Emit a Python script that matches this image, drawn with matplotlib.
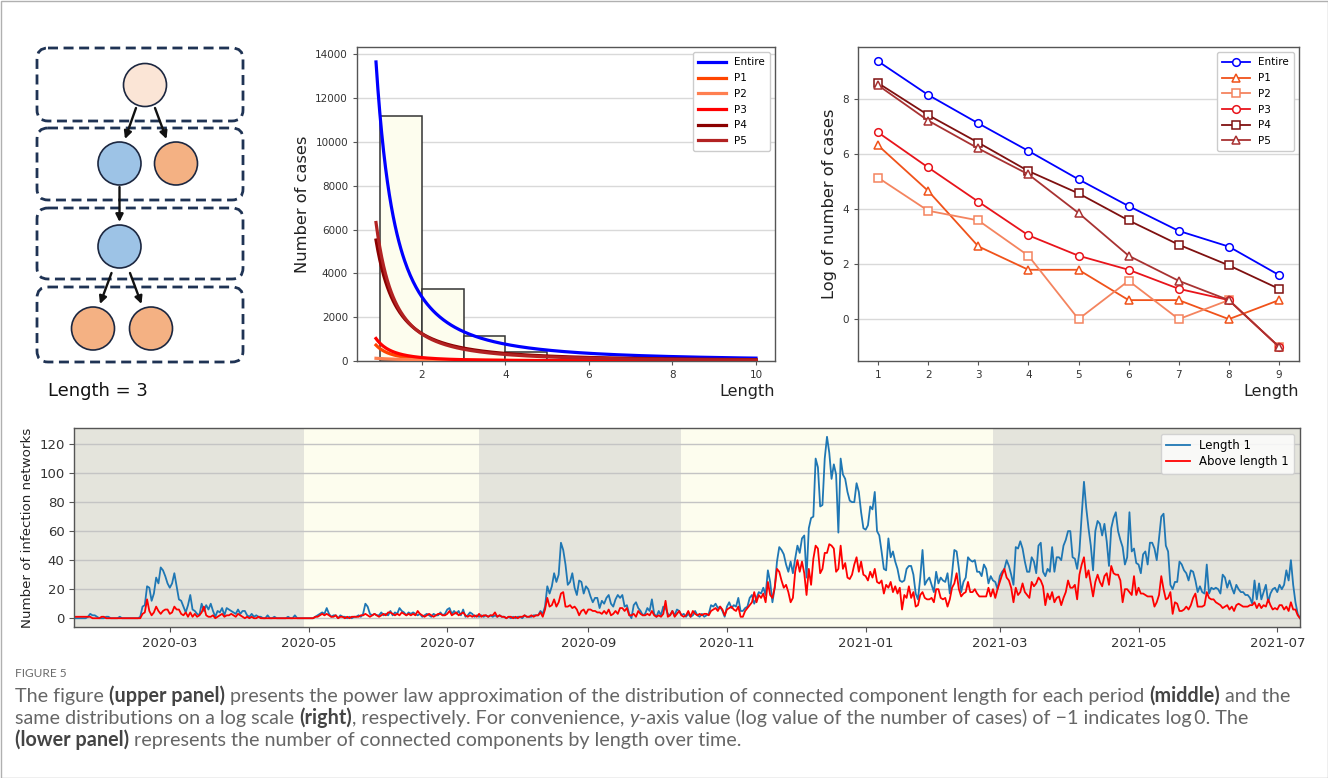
import numpy as np
import pandas as pd
import matplotlib
matplotlib.use('Agg')
import matplotlib.pyplot as plt
import matplotlib.dates as mdates
from matplotlib.patches import FancyBboxPatch, Circle, FancyArrowPatch, Rectangle

# ------------------------------------------------------------------ data
# middle panel: histogram of component length + power-law fits
hist_edges = [1, 2, 3, 4, 5, 6, 7, 8, 9, 10]
hist_counts = [11200, 3300, 1150, 430, 160, 60, 25, 14, 5]
series_names = ['Entire', 'P1', 'P2', 'P3', 'P4', 'P5']
fit_coef = [11140, 558, 111, 801, 4538, 5094]
fit_exp = [1.93, 2.5, 1.0, 2.36, 1.86, 2.05]
fit_xmin = 0.9
fit_xmax = [10, 10, 6, 10, 10, 10]

# right panel: log of number of cases by length
lengths = [1, 2, 3, 4, 5, 6, 7, 8, 9]
log_entire = [9.35, 8.13, 7.10, 6.10, 5.07, 4.10, 3.20, 2.63, 1.60]
log_p1 = [6.30, 4.65, 2.64, 1.79, 1.79, 0.69, 0.69, 0.00, 0.69]
log_p2 = [5.13, 3.93, 3.58, 2.30, 0.00, 1.39, 0.00, 0.69, -1.0]
log_p3 = [6.77, 5.50, 4.26, 3.04, 2.30, 1.79, 1.10, 0.69, -1.0]
log_p4 = [8.56, 7.40, 6.40, 5.37, 4.56, 3.58, 2.70, 1.95, 1.10]
log_p5 = [8.48, 7.20, 6.19, 5.25, 3.85, 2.30, 1.39, 0.69, -1.0]

# lower panel: daily counts
series_start = '2020-01-19'
len1_counts = [
    0, 0, 0, 0, 0, 0, 1, 3, 2, 2, 1, 0, 0, 0, 1, 1, 0, 0, 0, 0,
    1, 0, 0, 0, 0, 0, 0, 0, 0, 1, 8, 9, 22, 21, 12, 17, 28, 24, 35, 33,
    29, 24, 21, 24, 31, 22, 13, 12, 8, 4, 9, 16, 6, 5, 3, 2, 10, 5, 9, 6,
    10, 5, 1, 5, 4, 7, 2, 7, 6, 5, 4, 3, 6, 3, 5, 5, 2, 1, 3, 1,
    2, 1, 1, 0, 0, 2, 0, 0, 1, 0, 0, 0, 0, 0, 1, 0, 0, 2, 0, 0,
    0, 0, 0, 0,
    0, 0, 1, 2, 3, 4, 3, 7, 3, 1, 2, 2, 0, 2, 1, 1, 0, 1, 0, 1,
    1, 2, 1, 3, 10, 8, 3, 2, 3, 2, 2, 4, 2, 3, 2, 5, 2, 4, 3, 7,
    5, 4, 2, 4, 3, 4, 3, 2, 3, 1, 2, 3, 2, 1, 3, 2, 2, 4, 2, 3,
    6, 7, 3, 5, 3, 5, 2, 6, 1, 2, 4, 3, 1, 2, 1, 2, 1, 2, 1, 2,
    1, 2, 1, 2, 1, 1, 0, 1, 0, 1, 0, 1, 1, 0, 2, 1, 1, 1, 2, 2,
    2, 5, 3, 8, 22,
    17, 22, 31, 25, 30,
    52, 47, 37, 23, 25, 31, 21, 16, 26, 25, 17, 22, 20, 15, 11, 14, 14, 7, 12, 10,
    14, 16, 10, 8, 13, 16, 14, 16, 8, 9, 3, 0, 9, 11, 7, 5, 2, 3, 7, 5,
    13, 3, 1, 5, 2, 8, 7, 3, 2, 5, 2, 6, 5, 2, 3, 1, 3, 1, 2, 5,
    2, 1, 3, 1, 2, 3, 9, 8, 10, 7, 8, 5, 1, 8, 11, 7, 9, 8,
    14, 5, 5, 7, 8, 14, 16, 10, 14, 18, 17, 21, 16, 33, 25, 11, 21, 39, 49, 47,
    44, 37, 32, 39, 31,
    41, 50, 45, 55, 57, 28, 62, 69, 70, 110, 104, 77, 78, 110, 125, 114, 96, 106, 99, 59,
    110, 99, 96, 87, 81, 80, 80, 93, 87, 73, 62, 61, 64, 77, 75, 87, 60, 57, 46, 34,
    33, 55, 42, 46, 39, 34, 26, 25, 26, 34, 36, 36, 30, 17, 13, 28, 47, 23, 26, 28,
    23, 18, 32, 24, 28, 26, 25, 31, 17, 31, 47, 46, 34, 18, 25, 28, 42, 40, 39, 40,
    32, 32, 29, 37, 34, 24, 29, 26, 25, 20, 29, 32, 34, 40, 36, 30, 23, 49, 48, 53,
    48, 39, 32, 32, 42, 39, 31, 50, 52, 32,
    29, 34, 32, 49, 32, 42, 42, 40, 50, 54, 60, 60, 42, 41, 34, 46, 71, 94, 76, 62,
    50, 33, 60, 67, 65, 57, 65, 53, 36, 62, 69, 73, 60, 54, 49, 37, 42, 73, 46, 48,
    38, 37, 31, 44, 46, 37, 52, 52, 48, 40, 55, 70, 72, 50, 46, 23, 20, 25, 25, 39,
    37, 33, 31, 26, 33, 32, 26, 18, 22, 18, 17, 37, 17, 21, 20, 21, 20, 17, 30, 28,
    21, 26, 21, 17, 23, 20, 18, 18, 16, 16, 14, 10, 26, 13, 24, 13, 18, 23, 11, 17,
    20, 21, 18, 23, 20, 23, 33, 26, 40, 23, 11, 3, 0,
]
above1_counts = [
    1, 1, 1, 1, 1, 1, 1, 1, 0, 0, 0, 0, 1, 1, 0, 0, 0, 0, 0, 0,
    0, 0, 0, 0, 0, 0, 0, 0, 0, 0, 3, 4, 13, 5, 2, 4, 8, 5, 3, 5,
    6, 6, 3, 4, 8, 6, 6, 3, 2, 4, 1, 4, 1, 3, 1, 2, 4, 8, 2, 1,
    1, 2, 0, 1, 2, 3, 1, 2, 2, 3, 2, 1, 3, 2, 1, 0, 1, 0, 1, 0,
    0, 1, 0, 0, 0, 0, 0, 0, 0, 0, 0, 0, 0, 0, 0, 0, 0, 0, 0, 0,
    0, 0, 0, 0,
    0, 0, 1, 1, 2, 3, 2, 3, 2, 1, 1, 2, 0, 1, 1, 0, 1, 0, 1, 1,
    1, 1, 2, 2, 3, 2, 1, 2, 3, 2, 1, 2, 3, 2, 4, 4, 3, 2, 3, 2,
    4, 3, 2, 3, 2, 3, 2, 5, 3, 2, 1, 2, 3, 2, 1, 2, 3, 3, 2, 2,
    3, 5, 2, 3, 4, 2, 3, 4, 2, 1, 2, 1, 2, 1, 3, 1, 2, 2, 1, 2,
    2, 4, 1, 2, 1, 1, 0, 1, 1, 0, 1, 0, 1, 1, 2, 1, 1, 2, 1, 2,
    2, 4, 1, 6, 14,
    8, 9, 13, 8, 11, 17, 18, 8, 8, 9, 7, 8, 6, 2, 5, 6, 3, 6, 6, 5,
    5, 4, 4, 3, 5, 3, 6, 2, 3, 5, 3, 7, 7, 5, 7, 2, 2, 3, 1, 5,
    3, 2, 2, 3, 2, 5, 2, 1, 2, 1, 3, 12, 1, 2, 5, 1, 3, 5, 2, 1,
    2, 5, 1, 5, 3, 2, 3, 2,
    3, 3, 2, 5, 6, 7, 5, 8, 6, 2, 6, 7, 8, 6, 5, 8, 1, 1, 5, 7,
    9, 11, 18, 11, 16, 14, 17, 11, 25, 16, 14, 21, 34, 32, 26, 21, 23, 18, 11, 14,
    32, 40, 32, 39, 31, 16, 34, 23, 41, 50, 48, 31, 34, 45, 45, 51, 50, 48, 32, 34,
    50, 34, 38, 28, 27, 30, 37, 42, 32, 39, 30, 29, 26, 32, 28, 34, 25, 24, 26, 17,
    23, 21, 25, 18, 22, 17, 21, 6, 16, 14, 22, 14, 18, 8, 9, 16, 18, 14, 13, 13,
    14, 11, 20, 20, 14, 13, 14, 8, 13, 21, 24, 31, 20, 15, 17, 18, 25, 18, 18, 20,
    17, 15, 15, 15, 15, 21, 15, 20, 14, 20, 25, 30, 34, 28, 26, 21, 11, 21, 16, 18,
    24, 18, 16, 14, 25, 22, 24, 28, 26, 22,
    9, 17, 13, 18, 11, 14, 15, 9, 14, 18, 26, 21, 21, 23, 13, 30, 37, 42, 28, 33,
    24, 15, 25, 30, 25, 22, 29, 31, 23, 36, 31, 30, 30, 26, 11, 20, 20, 18, 16, 29,
    16, 21, 17, 17, 16, 15, 15, 15, 8, 11, 16, 29, 20, 13, 14, 18, 3, 11, 10, 5,
    5, 6, 8, 6, 9, 14, 17, 8, 8, 8, 9, 18, 14, 13, 13, 11, 10, 9, 7, 8,
    9, 6, 8, 5, 9, 10, 9, 8, 8, 8, 9, 9, 11, 7, 10, 7, 9, 8, 13, 9,
    6, 7, 6, 9, 9, 6, 8, 5, 11, 6, 6, 2, 0,
]
period_edges = ['2020-01-19', '2020-04-29', '2020-07-15', '2020-10-12', '2021-02-26', '2021-07-11']

# ------------------------------------------------------------------ styles
W, H = 1328, 778
fig = plt.figure(figsize=(W / 100, H / 100), dpi=100)
fig.patch.set_facecolor('white')

fit_colors = ['#0000ff', '#ff4500', '#ff7f50', '#ff0000', '#8b0000', '#b22222']
log_colors = ['#0000ff', '#f0521a', '#f4845f', '#e8141b', '#7f1010', '#a83232']
log_markers = ['o', '^', 's', 'o', 's', '^']
period_colors = ['#e4e4dc', '#fdfdee', '#e4e4dc', '#fdfdee', '#e4e4dc']
spine_c = '#555555'
tick_c = '#333333'

# ------------------------------------------------------------------ diagram (pixel space)
axd = fig.add_axes([0, 0, 1, 1])
axd.set_xlim(0, W)
axd.set_ylim(H, 0)
axd.axis('off')
navy = '#1f3354'
for (y0, y1) in [(48, 121), (128, 200), (208, 279), (287, 362)]:
    axd.add_patch(FancyBboxPatch((37, y0), 206, y1 - y0,
                                 boxstyle='round,pad=0,rounding_size=11',
                                 fill=False, ec=navy, lw=2.0, ls=(0, (3.6, 2.0))))
circ = [((145, 85), '#fbe5d6'), ((119.5, 163.5), '#9dc3e6'), ((176, 163.5), '#f4b183'),
        ((119.5, 246.5), '#9dc3e6'), ((93, 328.5), '#f4b183'), ((151, 328.5), '#f4b183')]
for (cx, cy), fc in circ:
    axd.add_patch(Circle((cx, cy), 21.5, fc=fc, ec='#1c2740', lw=1.2))
arrows = [((136, 108), (125, 139)), ((155, 108), (166.5, 139)), ((119.5, 187), (119.5, 222)),
          ((111.5, 273), (100, 304)), ((130, 273), (141.5, 304))]
for p0, p1 in arrows:
    axd.add_patch(FancyArrowPatch(p0, p1, arrowstyle='-|>', mutation_scale=11,
                                  lw=1.7, color='#111111', shrinkA=0, shrinkB=0))
axd.text(48, 391, 'Length = 3', fontsize=13, va='center', ha='left',
         family='DejaVu Sans', color='#111111')
axd.add_patch(Rectangle((0.5, 0.5), W - 1, H - 1, fill=False, ec='#b0b0b0', lw=1))

# ------------------------------------------------------------------ middle panel
axm = fig.add_axes([357 / W, 1 - 361 / H, 418 / W, 314 / H])
axm.bar(hist_edges[:-1], hist_counts, width=1, align='edge', color='#fdfdee',
        edgecolor='#333333', lw=1.1, zorder=2)
for name, a, b, xm, c in zip(series_names, fit_coef, fit_exp, fit_xmax, fit_colors):
    xs = np.linspace(fit_xmin, xm, 400)
    axm.plot(xs, a * xs ** (-b), color=c, lw=2.3, label=name, zorder=3)
axm.set_xticks([2, 4, 6, 8, 10])
axm.set_yticks(range(0, 14001, 2000))
axm.grid(axis='y', color='#d9d9d9', lw=1)
axm.set_axisbelow(True)
axm.set_ylabel('Number of cases', fontsize=11.7, color='#222222')
axm.set_xlabel('Length', fontsize=11.5, loc='right', color='#222222', labelpad=3)
leg = axm.legend(loc='upper right', fontsize=7.5, handlelength=2.6, borderpad=0.5,
                 labelspacing=0.55, framealpha=1, edgecolor='#cccccc')
for l in leg.get_lines():
    l.set_linewidth(2.3)

# ------------------------------------------------------------------ right panel
axr = fig.add_axes([858 / W, 1 - 361 / H, 441 / W, 314 / H])
log_series = [log_entire, log_p1, log_p2, log_p3, log_p4, log_p5]
for name, vals, c, m in zip(series_names, log_series, log_colors, log_markers):
    axr.plot(lengths, vals, color=c, marker=m, mfc='white', mec=c, ms=5.5, mew=1.1,
             lw=1.3, label=name)
axr.set_xticks(lengths)
axr.set_yticks([0, 2, 4, 6, 8])
axr.grid(axis='y', color='#d9d9d9', lw=1)
axr.set_axisbelow(True)
axr.set_ylabel('Log of number of cases', fontsize=11.7, color='#222222')
axr.set_xlabel('Length', fontsize=11.5, loc='right', color='#222222', labelpad=3)
axr.legend(loc='upper right', fontsize=7.5, handlelength=2.6, borderpad=0.5,
           labelspacing=0.55, framealpha=1, edgecolor='#cccccc')

for ax in (axm, axr):
    for s in ax.spines.values():
        s.set_color(spine_c)
        s.set_linewidth(1.0)
    ax.tick_params(labelsize=7.5, colors=spine_c, labelcolor=tick_c, length=3)

# ------------------------------------------------------------------ lower panel
axb = fig.add_axes([74.3 / W, 1 - 627.3 / H, (1300 - 74.3) / W, (627.3 - 427.7) / H])
dates = pd.date_range(series_start, periods=len(len1_counts), freq='D')
for i in range(len(period_edges) - 1):
    axb.axvspan(pd.Timestamp(period_edges[i]), pd.Timestamp(period_edges[i + 1]),
                color=period_colors[i], lw=0, zorder=0.1)
axb.plot(dates, len1_counts, color='#1f77b4', lw=1.3, label='Length 1', zorder=2)
axb.plot(dates, above1_counts, color='#ff0000', lw=1.3, label='Above length 1', zorder=2)
axb.set_xlim(dates[0], dates[-1])
axb.set_yticks(range(0, 121, 20))
axb.grid(axis='y', color='#c4c4c4', lw=1, zorder=0.5)
axb.xaxis.set_major_locator(mdates.MonthLocator(bymonth=[1, 3, 5, 7, 9, 11]))
axb.xaxis.set_major_formatter(mdates.DateFormatter('%Y-%m'))
axb.set_ylabel('Number of infection networks', fontsize=9.6, color='#222222')
axb.legend(loc='upper right', fontsize=8.5, handlelength=2.0, labelspacing=0.3,
           borderpad=0.45, framealpha=0.8, edgecolor='#cccccc')
for s in axb.spines.values():
    s.set_color(spine_c)
    s.set_linewidth(1.0)
axb.tick_params(labelsize=9.5, colors=spine_c, labelcolor=tick_c, length=3.5)

# ------------------------------------------------------------------ caption
cap_font = ['Lato', 'DejaVu Sans']
renderer = fig.canvas.get_renderer()
cap_col = '#666666'
bold_col = '#444444'


def text_width(txt, size, weight='normal', style='normal'):
    t = fig.text(0, 0, txt, fontsize=size, fontweight=weight, fontstyle=style, family=cap_font)
    w = t.get_window_extent(renderer).width
    t.remove()
    return w


def space_width(size):
    return text_width('a a', size) - text_width('aa', size)


def draw_parts(x, y, parts, size, draw=True):
    sp = space_width(size)
    for txt, kind in parts:
        lead = len(txt) - len(txt.lstrip(' '))
        trail = len(txt) - len(txt.rstrip(' '))
        core = txt.strip(' ')
        x += lead * sp
        weight = 'bold' if kind == 'b' else 'normal'
        style = 'italic' if kind == 'i' else 'normal'
        col = bold_col if kind == 'b' else cap_col
        if draw:
            fig.text(x / W, 1 - y / H, core, fontsize=size, fontweight=weight,
                     fontstyle=style, family=cap_font, color=col, va='baseline')
        x += text_width(core, size, weight, style)
        x += trail * sp
    return x


line1 = [('The figure ', 'n'), ('(upper panel)', 'b'),
         (' presents the power law approximation of the distribution of connected component '
          'length for each period ', 'n'), ('(middle)', 'b'), (' and the', 'n')]
line2 = [('same distributions on a log scale ', 'n'), ('(right)', 'b'),
         (', respectively. For convenience, ', 'n'), ('y', 'i'),
         ('-axis value (log value of the number of cases) of \u22121 indicates log\u20090. The', 'n')]
line3 = [('(lower panel)', 'b'), (' represents the number of connected components by length over time.', 'n')]

base = 10.0
w1 = draw_parts(0, 0, line1, base, draw=False)
cap_size = base * (1294 - 15) / w1
fig.text(15 / W, 1 - 677 / H, 'FIGURE 5', fontsize=8.6, family=cap_font, color='#6a6a6a',
         va='baseline')
draw_parts(15, 702, line1, cap_size)
draw_parts(15, 724, line2, cap_size)
draw_parts(15, 746, line3, cap_size)

fig.savefig('out.png', dpi=100, facecolor='white')
